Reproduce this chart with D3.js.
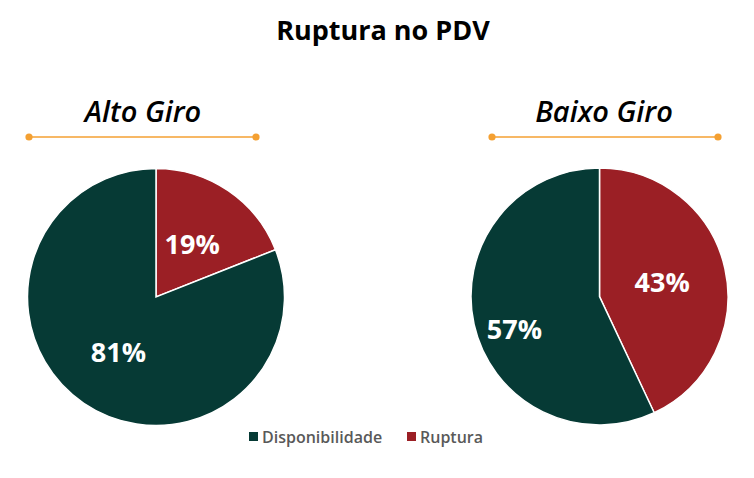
<!DOCTYPE html>
<html lang="pt">
<head>
<meta charset="utf-8">
<title>Ruptura no PDV</title>
<script src="https://cdn.jsdelivr.net/npm/d3@7"></script>
<style>
  body { margin: 0; background: #fff; }
  text { font-family: "Open Sans", "Segoe UI", sans-serif; }
</style>
</head>
<body>
<script>
// data
var categories = ["Ruptura", "Disponibilidade"];
var groups = ["Alto Giro", "Baixo Giro"];
var altoGiro = [19, 81];
var baixoGiro = [43, 57];
var colors = ["#9b1f25", "#063a35"];

var w = 754, h = 478;
var svg = d3.select("body").append("svg")
  .attr("width", w).attr("height", h);

// title
svg.append("text")
  .attr("x", 383).attr("y", 40)
  .attr("text-anchor", "middle")
  .attr("font-size", "27px")
  .attr("font-weight", "bold")
  .attr("fill", "#000")
  .text("Ruptura no PDV");

// label placement: radius fraction + small angle shift (rad) per slice
var panels = [
  {name: groups[0], values: altoGiro, cx: 156, cy: 297, tx: 143, lx1: 29, lx2: 256, lr: [0.5, 0.52], la: [0, 0]},
  {name: groups[1], values: baixoGiro, cx: 599.5, cy: 296.5, tx: 604, lx1: 492, lx2: 718, lr: [0.5, 0.71], la: [0, -0.15]}
];
var r = 128.5;

var pie = d3.pie().sort(null).value(function(d) { return d; });
var arc = d3.arc().innerRadius(0).outerRadius(r);

panels.forEach(function(p) {
  // subtitle
  svg.append("text")
    .attr("x", p.tx).attr("y", 122)
    .attr("text-anchor", "middle")
    .attr("font-size", "29px")
    .attr("font-weight", "600")
    .attr("font-style", "italic")
    .attr("fill", "#000")
    .text(p.name);

  // orange rule with dots
  svg.append("line")
    .attr("x1", p.lx1).attr("x2", p.lx2)
    .attr("y1", 137).attr("y2", 137)
    .attr("stroke", "#f4a032").attr("stroke-width", 1.5);
  [p.lx1, p.lx2].forEach(function(x) {
    svg.append("circle").attr("cx", x).attr("cy", 137).attr("r", 3.6)
      .attr("fill", "#f4a032");
  });

  var g = svg.append("g").attr("transform", "translate(" + p.cx + "," + p.cy + ")");
  var arcs = pie(p.values);

  g.selectAll("path")
    .data(arcs)
    .enter()
    .append("path")
    .attr("d", arc)
    .attr("fill", function(d, i) { return colors[i]; })
    .attr("stroke", "#fff")
    .attr("stroke-width", 1.5);

  g.selectAll("text")
    .data(arcs)
    .enter()
    .append("text")
    .attr("transform", function(d, i) {
      var a = (d.startAngle + d.endAngle) / 2 + p.la[i];
      var rr = r * p.lr[i];
      return "translate(" + (Math.sin(a) * rr) + "," + (-Math.cos(a) * rr) + ")";
    })
    .attr("text-anchor", "middle")
    .attr("dy", "0.36em")
    .attr("font-size", "27px")
    .attr("font-weight", "bold")
    .attr("fill", "#fff")
    .text(function(d) { return d.data + "%"; });
});

// legend
var legend = [
  {label: categories[1], color: colors[1], x: 249},
  {label: categories[0], color: colors[0], x: 407}
];
var lg = svg.selectAll(".legend")
  .data(legend)
  .enter()
  .append("g")
  .attr("transform", function(d) { return "translate(" + d.x + ",437)"; });
lg.append("rect")
  .attr("x", 0).attr("y", -5)
  .attr("width", 9).attr("height", 9)
  .attr("fill", function(d) { return d.color; });
lg.append("text")
  .attr("x", 13).attr("y", 0)
  .attr("dy", "0.35em")
  .attr("font-size", "16px")
  .attr("font-weight", "600")
  .attr("fill", "#595959")
  .text(function(d) { return d.label; });
</script>
</body>
</html>
